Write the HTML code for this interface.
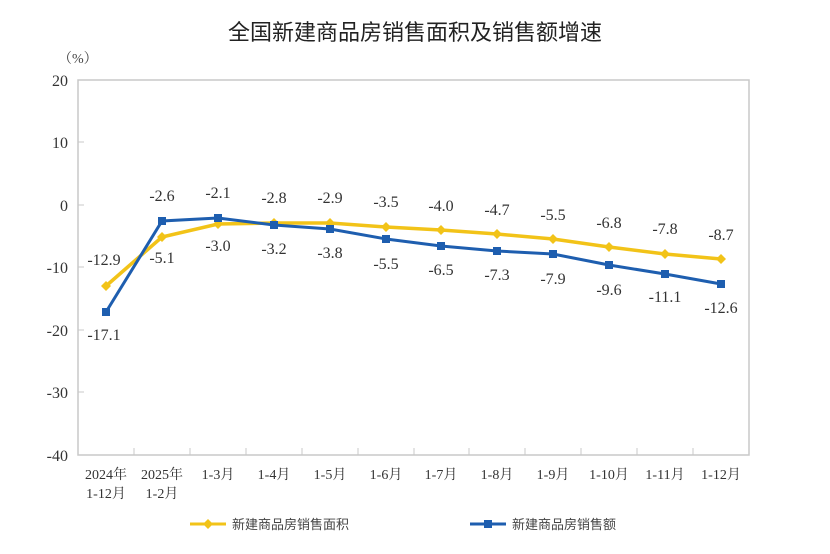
<!DOCTYPE html><html><head><meta charset="utf-8"><style>body{margin:0;background:#fff}</style></head><body>
<svg width="830" height="549" xmlns="http://www.w3.org/2000/svg" font-family="'Liberation Serif','Noto Serif CJK SC',serif">
<rect width="830" height="549" fill="#fff"/>
<text x="415" y="40" text-anchor="middle" font-size="22" font-family="'Liberation Sans','Noto Sans CJK SC',sans-serif" fill="#222">全国新建商品房销售面积及销售额增速</text>
<text x="58" y="63" font-size="14" fill="#444">（%）</text>
<rect x="78" y="80" width="671" height="375" fill="none" stroke="#c8c8c8" stroke-width="1.5"/>
<g font-size="16" fill="#333" text-anchor="end">
<text x="68" y="86">20</text><text x="68" y="148">10</text><text x="68" y="211">0</text><text x="68" y="273">-10</text><text x="68" y="336">-20</text><text x="68" y="398">-30</text><text x="68" y="461">-40</text></g>
<g stroke="#c8c8c8"><line x1="78" y1="142" x2="84" y2="142"/><line x1="78" y1="205" x2="84" y2="205"/><line x1="78" y1="267" x2="84" y2="267"/><line x1="78" y1="330" x2="84" y2="330"/><line x1="78" y1="392" x2="84" y2="392"/>
<line x1="134" y1="455" x2="134" y2="448"/><line x1="190" y1="455" x2="190" y2="448"/><line x1="246" y1="455" x2="246" y2="448"/><line x1="302" y1="455" x2="302" y2="448"/><line x1="358" y1="455" x2="358" y2="448"/><line x1="414" y1="455" x2="414" y2="448"/><line x1="469" y1="455" x2="469" y2="448"/><line x1="525" y1="455" x2="525" y2="448"/><line x1="581" y1="455" x2="581" y2="448"/><line x1="637" y1="455" x2="637" y2="448"/><line x1="693" y1="455" x2="693" y2="448"/></g>
<g font-size="14" fill="#333" text-anchor="middle">
<text x="106" y="479">2024年</text><text x="106" y="498">1-12月</text>
<text x="162" y="479">2025年</text><text x="162" y="498">1-2月</text>
<text x="218" y="479">1-3月</text><text x="274" y="479">1-4月</text><text x="330" y="479">1-5月</text><text x="386" y="479">1-6月</text><text x="441" y="479">1-7月</text><text x="497" y="479">1-8月</text><text x="553" y="479">1-9月</text><text x="609" y="479">1-10月</text><text x="665" y="479">1-11月</text><text x="721" y="479">1-12月</text></g>
<polyline fill="none" stroke="#f2c318" stroke-width="3.5" points="106,286 162,237 218,224 274,223 330,223 386,227 441,230 497,234 553,239 609,247 665,254 721,259"/>
<g fill="#f2c318"><path d="M106,281l5,5-5,5-5-5z"/><path d="M162,232l5,5-5,5-5-5z"/><path d="M218,219l5,5-5,5-5-5z"/><path d="M274,218l5,5-5,5-5-5z"/><path d="M330,218l5,5-5,5-5-5z"/><path d="M386,222l5,5-5,5-5-5z"/><path d="M441,225l5,5-5,5-5-5z"/><path d="M497,229l5,5-5,5-5-5z"/><path d="M553,234l5,5-5,5-5-5z"/><path d="M609,242l5,5-5,5-5-5z"/><path d="M665,249l5,5-5,5-5-5z"/><path d="M721,254l5,5-5,5-5-5z"/></g>
<polyline fill="none" stroke="#1e5eaf" stroke-width="3" points="106,312 162,221 218,218 274,225 330,229 386,239 441,246 497,251 553,254 609,265 665,274 721,284"/>
<g fill="#1e5eaf"><rect x="102" y="308" width="8" height="8"/><rect x="158" y="217" width="8" height="8"/><rect x="214" y="214" width="8" height="8"/><rect x="270" y="221" width="8" height="8"/><rect x="326" y="225" width="8" height="8"/><rect x="382" y="235" width="8" height="8"/><rect x="437" y="242" width="8" height="8"/><rect x="493" y="247" width="8" height="8"/><rect x="549" y="250" width="8" height="8"/><rect x="605" y="261" width="8" height="8"/><rect x="661" y="270" width="8" height="8"/><rect x="717" y="280" width="8" height="8"/></g>
<g font-size="16" fill="#333" text-anchor="middle">
<text x="104" y="265">-12.9</text><text x="104" y="340">-17.1</text>
<text x="162" y="201">-2.6</text><text x="162" y="263">-5.1</text>
<text x="218" y="198">-2.1</text><text x="218" y="251">-3.0</text>
<text x="274" y="203">-2.8</text><text x="274" y="254">-3.2</text>
<text x="330" y="203">-2.9</text><text x="330" y="258">-3.8</text>
<text x="386" y="207">-3.5</text><text x="386" y="269">-5.5</text>
<text x="441" y="211">-4.0</text><text x="441" y="275">-6.5</text>
<text x="497" y="215">-4.7</text><text x="497" y="280">-7.3</text>
<text x="553" y="220">-5.5</text><text x="553" y="284">-7.9</text>
<text x="609" y="228">-6.8</text><text x="609" y="295">-9.6</text>
<text x="665" y="234">-7.8</text><text x="665" y="302">-11.1</text>
<text x="721" y="240">-8.7</text><text x="721" y="313">-12.6</text></g>
<line x1="190" y1="524" x2="226" y2="524" stroke="#f2c318" stroke-width="3"/><path d="M208,519l5,5-5,5-5-5z" fill="#f2c318"/>
<text x="232" y="529" font-size="13" fill="#444" font-family="'Liberation Sans','Noto Sans CJK SC',sans-serif">新建商品房销售面积</text>
<line x1="470" y1="524" x2="506" y2="524" stroke="#1e5eaf" stroke-width="3"/><rect x="484" y="520" width="8" height="8" fill="#1e5eaf"/>
<text x="512" y="529" font-size="13" fill="#444" font-family="'Liberation Sans','Noto Sans CJK SC',sans-serif">新建商品房销售额</text>
</svg></body></html>
